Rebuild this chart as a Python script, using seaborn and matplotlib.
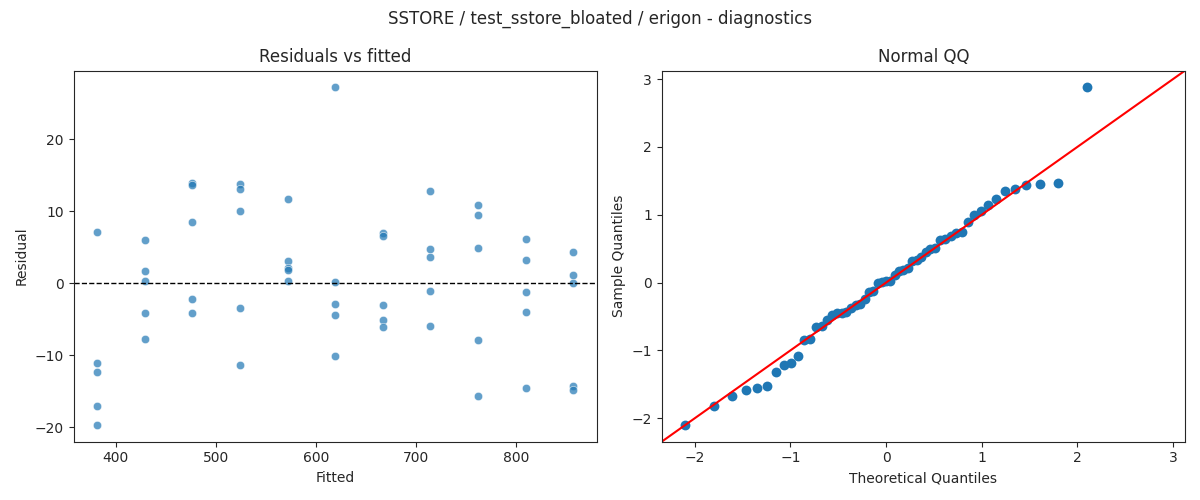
import numpy as np
import pandas as pd
import seaborn as sns
import matplotlib
matplotlib.use("Agg")
import matplotlib.pyplot as plt
from statistics import NormalDist

fitted_levels = [381.5, 429, 476.5, 524, 571.5, 619, 666.5, 714, 761.5, 809, 856.5]
residuals = [
    [7.07, -11.09, -12.33, -17.04, -19.68],
    [5.96, 1.66, 0.28, -4.16, -7.76],
    [13.95, 13.67, 8.45, -2.22, -4.16],
    [13.76, 13.12, 9.98, -3.42, -11.36],
    [11.64, 3.09, 2.03, 1.85, 0.28],
    [27.16, 0.18, -2.91, -4.43, -10.12],
    [7.02, 6.60, -3.05, -5.13, -6.10],
    [12.79, 4.71, 3.60, -1.11, -5.91],
    [10.81, 9.42, 4.85, -7.85, -15.61],
    [6.10, 3.19, -1.25, -4.02, -14.55],
    [4.30, 1.11, 0.0, -14.32, -14.87],
]

title = "SSTORE / test_sstore_bloated / erigon - diagnostics"

rows = []
for f, rs in zip(fitted_levels, residuals):
    for r in rs:
        rows.append({"fitted": f, "resid": r})
df = pd.DataFrame(rows)

# normal QQ of the standardized residuals
r = df["resid"].to_numpy()
std_resid = np.sort((r - r.mean()) / r.std())
n = len(std_resid)
theo = np.array([NormalDist().inv_cdf(i / (n + 1)) for i in range(1, n + 1)])
qq = pd.DataFrame({"theo": theo, "sample": std_resid})

sns.set_style("ticks")
fig, axes = plt.subplots(1, 2, figsize=(12, 5), dpi=100)

ax = axes[0]
sns.scatterplot(data=df, x="fitted", y="resid", ax=ax, alpha=0.7)
ax.axhline(0, color="black", linestyle="--", linewidth=1)
ax.set_title("Residuals vs fitted")
ax.set_xlabel("Fitted")
ax.set_ylabel("Residual")

ax = axes[1]
sns.scatterplot(data=qq, x="theo", y="sample", ax=ax, s=50, linewidth=0, color="C0")
xl = ax.get_xlim()
yl = ax.get_ylim()
lo, hi = min(xl[0], yl[0]), max(xl[1], yl[1])
ax.plot([lo, hi], [lo, hi], color="red", linewidth=1.5)
ax.set_xlim(lo, hi)
ax.set_ylim(lo, hi)
ax.set_title("Normal QQ")
ax.set_xlabel("Theoretical Quantiles")
ax.set_ylabel("Sample Quantiles")

fig.suptitle(title)
fig.tight_layout()
fig.savefig("out.png")
